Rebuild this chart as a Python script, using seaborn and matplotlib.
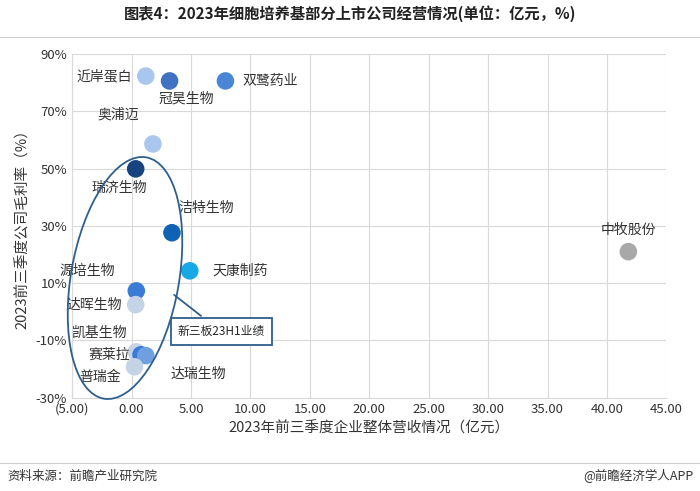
import matplotlib
matplotlib.use("Agg")
import matplotlib.pyplot as plt
from matplotlib.patches import Ellipse
from matplotlib.transforms import IdentityTransform
import seaborn as sns
import pandas as pd

companies = ["近岸蛋白", "冠昊生物", "双鹭药业", "奥浦迈", "瑞济生物", "洁特生物", "天康制药",
             "源培生物", "达晖生物", "凯基生物", "赛莱拉", "达瑞生物", "普瑞金", "中牧股份"]
revenue = [1.2, 3.2, 7.9, 1.8, 0.35, 3.4, 4.9, 0.4, 0.35, 0.4, 0.8, 1.2, 0.25, 41.8]
margin = [82.3, 80.6, 80.6, 58.6, 49.9, 27.6, 14.3, 7.3, 2.5, -14.0, -15.0, -15.3, -19.2, 21.0]
colors = ["#a9c6ee", "#3f72c0", "#4a86d8", "#a9c6ee", "#17437f", "#0f62b4", "#16a9e6",
          "#3a7bd5", "#c4d3e6", "#c4d3e6", "#3a7bd5", "#6f9fe0", "#c4d3e6", "#a8a8a8"]
label_pos = [(-10, 0, "right"), (12, -13, "center"), (12, 0, "left"), (-10, 21, "right"),
             (-12, -14, "center"), (25, 18, "center"), (16, 0, "left"), (-15, 14, "right"),
             (-10, 0, "right"), (-6, 14, "right"), (-8, 0, "right"), (38, -13, "center"),
             (-10, -7, "right"), (0, 16, "center")]

sns.set_style("white")
plt.rcParams["font.family"] = ["Noto Sans CJK SC", "DejaVu Sans"]

df = pd.DataFrame({"company": companies, "revenue": revenue, "margin": margin})

fig, ax = plt.subplots(figsize=(7.0, 4.91), dpi=100)
fig.subplots_adjust(left=0.103, right=0.952, top=0.89, bottom=0.19)
sns.scatterplot(data=df, x="revenue", y="margin", hue="company", palette=colors,
                s=160, edgecolor="none", legend=False, ax=ax, zorder=3)

for (name, x, y), (dx, dy, ha) in zip(zip(companies, revenue, margin), label_pos):
    ax.annotate(name, (x, y), xytext=(dx, dy), textcoords="offset points",
                ha=ha, va="center", fontsize=10, color="#333333")

ax.set_xlim(-5, 45)
ax.set_ylim(-30, 90)
ax.set_xticks(range(-5, 46, 5))
ax.set_xticklabels(["(5.00)"] + [f"{v:.2f}" for v in range(0, 46, 5)], fontsize=9.5)
ax.get_xticklabels()[0].set_color("#c00000")
ax.set_yticks(range(-30, 91, 20))
ax.set_yticklabels([f"{v}%" for v in range(-30, 91, 20)], fontsize=9.5)
ax.grid(True, color="#d9d9d9", linewidth=0.8)
ax.set_axisbelow(True)
for sp in ["top", "right"]:
    ax.spines[sp].set_visible(False)
for sp in ["left", "bottom"]:
    ax.spines[sp].set_color("#d9d9d9")
ax.tick_params(length=0, colors="#333333")

ax.set_xlabel("2023年前三季度企业整体营收情况（亿元）", fontsize=10.5, color="#333333")
ax.set_ylabel("2023前三季度公司毛利率（%）", fontsize=10.5, color="#333333")

# ellipse drawn in pixel space so its tilt matches the picture
fig.add_artist(Ellipse((125, 491 - 278), 108, 245, angle=-10, fill=False,
                       edgecolor="#2d5f8f", linewidth=1.3, transform=IdentityTransform(), zorder=4))
ax.annotate("新三板23H1业绩", xy=(3.4, 6.5), xytext=(3.9, -7), fontsize=8.5, va="center",
            bbox=dict(boxstyle="square,pad=0.6", fc="white", ec="#2d5f8f", lw=1.3),
            arrowprops=dict(arrowstyle="-", color="#2d5f8f", lw=1.3), zorder=5)

fig.text(0.5, 0.962, "图表4：2023年细胞培养基部分上市公司经营情况(单位：亿元，%)",
         ha="center", fontsize=11, fontweight="bold", color="#222222")
fig.add_artist(plt.Line2D([0.0, 1.0], [0.925, 0.925], color="#cccccc", lw=0.8))
fig.add_artist(plt.Line2D([0.0, 1.0], [0.058, 0.058], color="#cccccc", lw=0.8))
fig.text(0.01, 0.022, "资料来源：前瞻产业研究院", fontsize=9, color="#333333")
fig.text(0.99, 0.022, "@前瞻经济学人APP", fontsize=9, color="#333333", ha="right")

fig.savefig("out.png", dpi=100)
